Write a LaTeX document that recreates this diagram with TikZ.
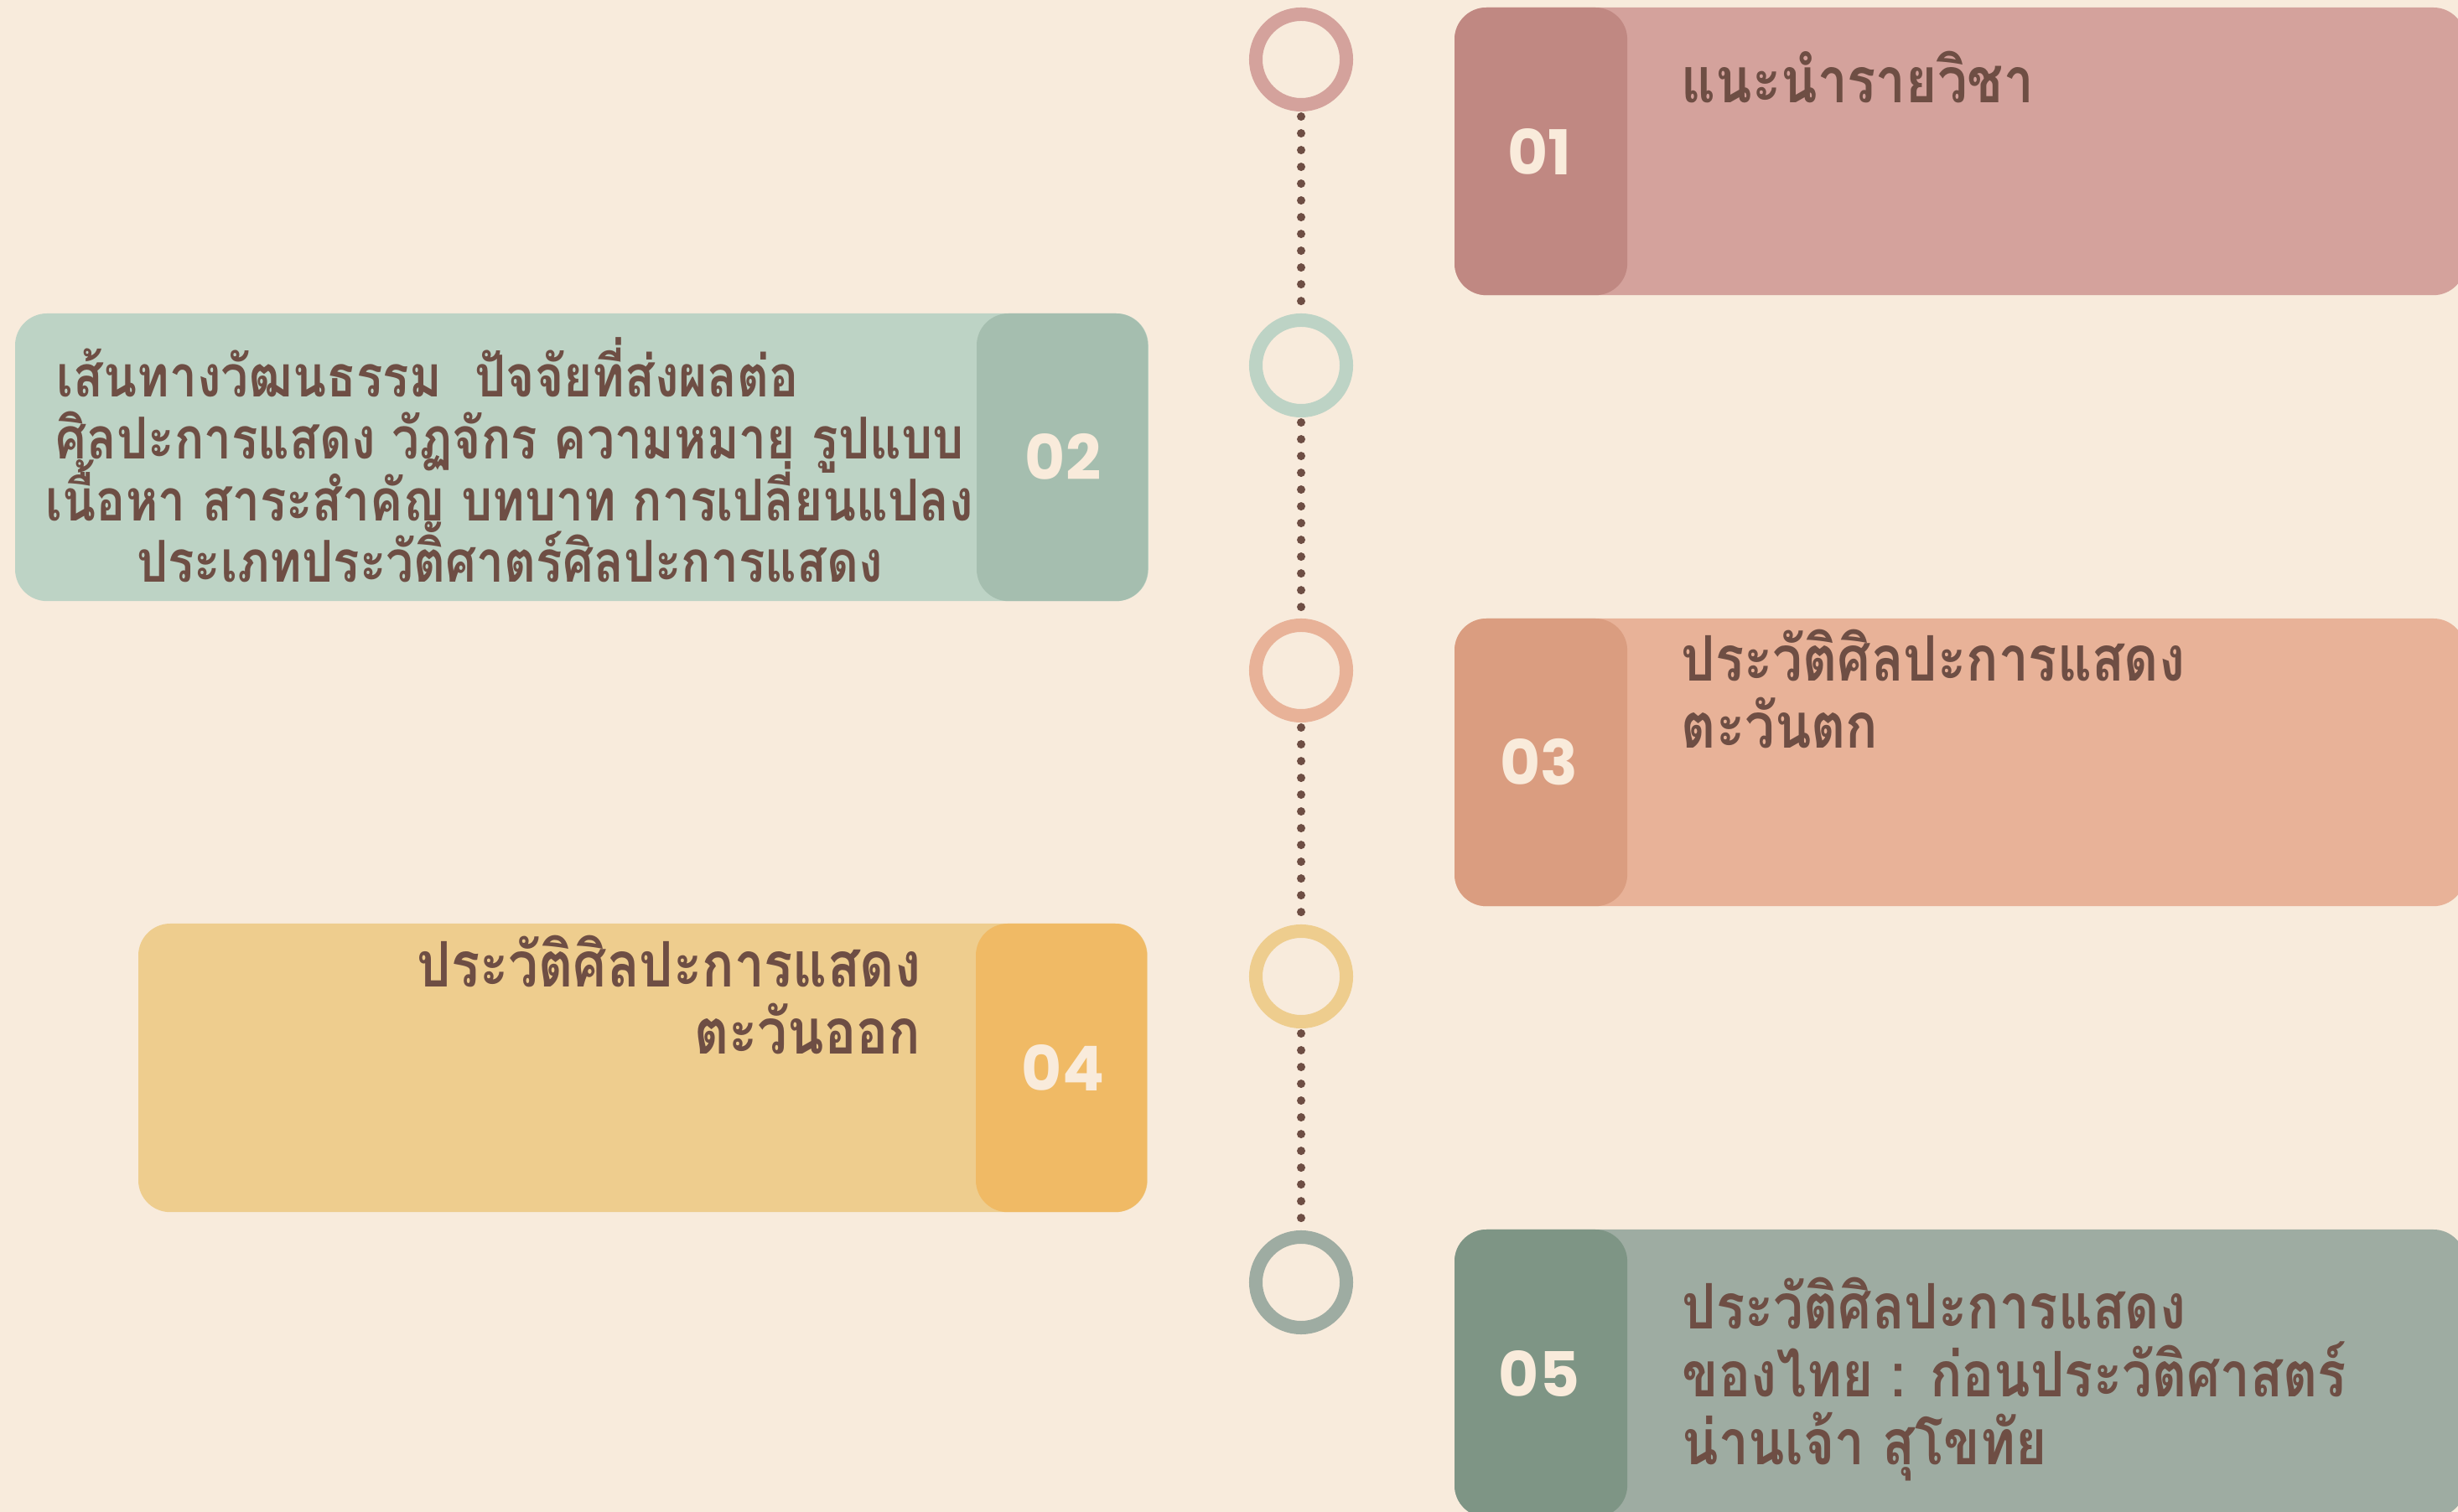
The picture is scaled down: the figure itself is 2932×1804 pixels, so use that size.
\documentclass[tikz,border=0pt]{standalone}
\usepackage{fontspec}
\newfontfamily\thaifont[Script=Thai, FakeStretch=0.85]{Loma}
\newfontfamily\numfont{Poppins}
\definecolor{bgc}{HTML}{F8EBDC}
\definecolor{txtc}{HTML}{6E4E44}
\definecolor{numc}{HTML}{F9EBDB}
\definecolor{c1l}{HTML}{D4A29C}
\definecolor{c1d}{HTML}{C08882}
\definecolor{c2l}{HTML}{BDD3C5}
\definecolor{c2d}{HTML}{A5BEAF}
\definecolor{c3l}{HTML}{E8B298}
\definecolor{c3d}{HTML}{DA9D80}
\definecolor{c4l}{HTML}{EECD8E}
\definecolor{c4d}{HTML}{F0BA65}
\definecolor{c5l}{HTML}{9EACA2}
\definecolor{c5d}{HTML}{7E9585}
\tikzset{
 panel/.style={rectangle, rounded corners=0.38cm, inner sep=0pt, outer sep=0pt, anchor=north west, draw=none, minimum height=3.43cm},
 ring/.style={circle, draw, line width=0.16cm, minimum size=1.08cm, inner sep=0pt, fill=bgc},
 num/.style={text=numc, font=\numfont\bfseries\fontsize{21pt}{21pt}\selectfont, inner sep=0pt},
 body/.style={text=txtc, font=\thaifont\bfseries\fontsize{21.3pt}{23pt}\selectfont, inner sep=0pt},
 bodysmall/.style={text=txtc, font=\thaifont\bfseries\fontsize{19.6pt}{21pt}\selectfont, inner sep=0pt},
 link/.style={draw=txtc, line width=0.1cm, line cap=round, dash pattern=on 0pt off 0.2cm, shorten <=0.06cm, shorten >=0.06cm}
}
\begin{document}
\begin{tikzpicture}[x=0.01cm,y=-0.01cm]
\lineskiplimit=-100pt\relax
\fill[bgc] (0,0) rectangle (2932,1804);
\useasboundingbox (0,0) rectangle (2932,1804);
% panels
\node[panel, fill=c1l, minimum width=12.05cm] (p1) at (1735,9) {};
\node[panel, fill=c1d, minimum width=2.06cm] (t1) at (1735,9) {};
\node[panel, fill=c2l, minimum width=13.51cm] (p2) at (18,374) {};
\node[panel, fill=c2d, minimum width=2.04cm] (t2) at (1165,374) {};
\node[panel, fill=c3l, minimum width=12.05cm] (p3) at (1735,738) {};
\node[panel, fill=c3d, minimum width=2.06cm] (t3) at (1735,738) {};
\node[panel, fill=c4l, minimum width=12.03cm, minimum height=3.44cm] (p4) at (165,1102) {};
\node[panel, fill=c4d, minimum width=2.04cm, minimum height=3.44cm] (t4) at (1164,1102) {};
\node[panel, fill=c5l, minimum width=12.05cm] (p5) at (1735,1467) {};
\node[panel, fill=c5d, minimum width=2.06cm] (t5) at (1735,1467) {};
% numbers
\node[num] (n1) at (1836,181) {01};
\node[num] (n2) at (1268,545) {02};
\node[num] (n3) at (1836,909) {03};
\node[num] (n4) at (1268,1274) {04};
\node[num] (n5) at (1836,1639) {05};
% texts
\node[body, anchor=base west, align=left] (x1) at (2005,123) {แนะนำรายวิชา};
\node[bodysmall, anchor=base, align=center] (x2) at (608,695) {เส้นทางวัฒนธรรม\ \ ปัจจัยที่ส่งผลต่อ\hspace{1.95cm}\mbox{}\\ศิลปะการแสดง วัฏจักร ความหมาย รูปแบบ\\เนื้อหา สาระสำคัญ บทบาท การเปลี่ยนแปลง\\ประเภทประวัติศาตร์ศิลปะการแสดง};
\node[body, anchor=base west, align=left] (x3) at (2005,893) {ประวัติศิลปะการแสดง\\ตะวันตก};
\node[body, anchor=base east, align=right] (x4) at (1099,1258) {ประวัติศิลปะการแสดง\\ตะวันออก};
\node[body, anchor=base west, align=left] (x5) at (2006,1747) {ประวัติศิลปะการแสดง\\ของไทย : ก่อนประวัติศาสตร์\\น่านเจ้า สุโขทัย};
% rings
\node[ring, draw=c1l] (r1) at (1552,71) {};
\node[ring, draw=c2l] (r2) at (1552,436) {};
\node[ring, draw=c3l] (r3) at (1552,800) {};
\node[ring, draw=c4l] (r4) at (1552,1165) {};
\node[ring, draw=c5l] (r5) at (1552,1530) {};
% links
\draw[link] (r1.south) -- (r2.north);
\draw[link] (r2.south) -- (r3.north);
\draw[link] (r3.south) -- (r4.north);
\draw[link] (r4.south) -- (r5.north);
\end{tikzpicture}
\end{document}
